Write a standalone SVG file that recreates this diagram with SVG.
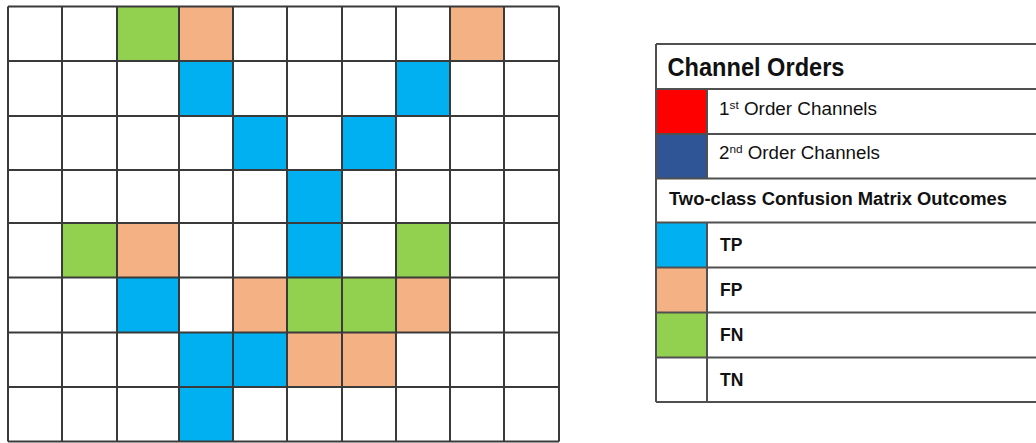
<svg xmlns="http://www.w3.org/2000/svg" width="1036" height="443" viewBox="0 0 1036 443">
<style>
.tp{fill:#00B0F0}.fp{fill:#F4B183}.fn{fill:#92D050}.red{fill:#FF0000}.db{fill:#2F5597}
.gl{stroke:#3a3a3a;stroke-width:2;fill:none}
.ll{stroke:#505050;stroke-width:2;fill:none}
.t{font-family:"Liberation Sans",Arial,sans-serif;fill:#111}
.b{font-weight:bold}
</style>
<rect width="1036" height="443" fill="#fff"/>
<g id="grid">
<g id="cells">
<rect class="fn" x="117" y="6.5" width="62" height="54.5"/>
<rect class="fp" x="179" y="6.5" width="54" height="54.5"/>
<rect class="fp" x="450" y="6.5" width="54" height="54.5"/>
<rect class="tp" x="179" y="61" width="54" height="55"/>
<rect class="tp" x="396" y="61" width="54" height="55"/>
<rect class="tp" x="233" y="116" width="54" height="54"/>
<rect class="tp" x="342" y="116" width="54" height="54"/>
<rect class="tp" x="287" y="170" width="55" height="53"/>
<rect class="fn" x="62" y="223" width="55" height="54.5"/>
<rect class="fp" x="117" y="223" width="62" height="54.5"/>
<rect class="tp" x="287" y="223" width="55" height="54.5"/>
<rect class="fn" x="396" y="223" width="54" height="54.5"/>
<rect class="tp" x="117" y="277.5" width="62" height="55"/>
<rect class="fp" x="233" y="277.5" width="54" height="55"/>
<rect class="fn" x="287" y="277.5" width="55" height="55"/>
<rect class="fn" x="342" y="277.5" width="54" height="55"/>
<rect class="fp" x="396" y="277.5" width="54" height="55"/>
<rect class="tp" x="179" y="332.5" width="54" height="54.5"/>
<rect class="tp" x="233" y="332.5" width="54" height="54.5"/>
<rect class="fp" x="287" y="332.5" width="55" height="54.5"/>
<rect class="fp" x="342" y="332.5" width="54" height="54.5"/>
<rect class="tp" x="179" y="387" width="54" height="54.5"/>
</g>
<path class="gl" d="M8 6.5H559M8 61H559M8 116H559M8 170H559M8 223H559M8 277.5H559M8 332.5H559M8 387H559M8 441.5H559
M8 6.5V441.5M62 6.5V441.5M117 6.5V441.5M179 6.5V441.5M233 6.5V441.5M287 6.5V441.5M342 6.5V441.5M396 6.5V441.5M450 6.5V441.5M504 6.5V441.5M559 6.5V441.5"/>
</g>
<g id="legend">
<rect class="red" x="656" y="89" width="51" height="45"/>
<rect class="db" x="656" y="134" width="51" height="44.5"/>
<rect class="tp" x="656" y="222.5" width="51" height="45"/>
<rect class="fp" x="656" y="267.5" width="51" height="45"/>
<rect class="fn" x="656" y="312.5" width="51" height="45"/>
<path class="ll" d="M656 44H1036M656 89H1036M656 134H1036M656 178.5H1036M656 222.5H1036M656 267.5H1036M656 312.5H1036M656 357.5H1036M656 402H1036
M656 44V402M707 89V178.5M707 222.5V402"/>
<text class="t b" x="667.5" y="75.7" font-size="25" textLength="177" lengthAdjust="spacingAndGlyphs">Channel Orders</text>
<text class="t" x="719" y="115" font-size="17.5" textLength="158" lengthAdjust="spacingAndGlyphs">1<tspan font-size="11" dy="-6">st</tspan><tspan dy="6"> Order Channels</tspan></text>
<text class="t" x="719" y="158.5" font-size="17.5" textLength="161" lengthAdjust="spacingAndGlyphs">2<tspan font-size="11" dy="-6">nd</tspan><tspan dy="6"> Order Channels</tspan></text>
<text class="t b" x="669" y="204.7" font-size="17.5" textLength="338" lengthAdjust="spacingAndGlyphs">Two-class Confusion Matrix Outcomes</text>
<text class="t b" x="720" y="251" font-size="17.5">TP</text>
<text class="t b" x="720" y="295.7" font-size="17.5">FP</text>
<text class="t b" x="720" y="340.7" font-size="17.5">FN</text>
<text class="t b" x="720" y="386" font-size="17.5">TN</text>
</g>
</svg>
